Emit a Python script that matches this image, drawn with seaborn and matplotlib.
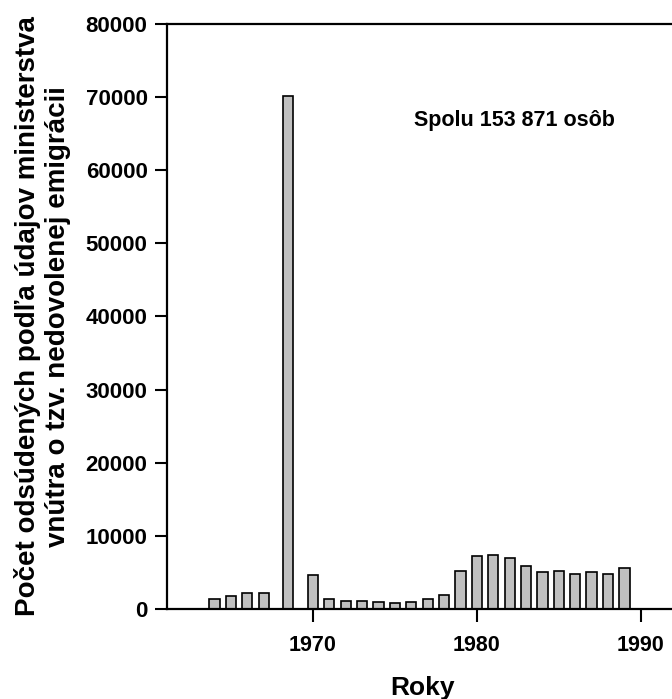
import matplotlib
matplotlib.use("Agg")
import matplotlib.pyplot as plt
import seaborn as sns
import pandas as pd

# Values (1968 and 1969 shown as one bar at 1968.5)
years = [1964, 1965, 1966, 1967, 1968.5, 1970, 1971, 1972, 1973, 1974, 1975,
         1976, 1977, 1978, 1979, 1980, 1981, 1982, 1983, 1984, 1985, 1986,
         1987, 1988, 1989]
counts = [1400, 1780, 2190, 2190, 70100, 4650, 1320, 1140, 1050, 960, 780,
          960, 1320, 1870, 5200, 7200, 7340, 6980, 5840, 5060, 5240, 4790,
          5060, 4790, 5560]
y_ticks = [0, 10000, 20000, 30000, 40000, 50000, 60000, 70000, 80000]
x_ticks = [1970, 1980, 1990]

df = pd.DataFrame({"rok": years, "pocet": counts})

sns.set_style("ticks")
plt.rcParams["font.family"] = ["Liberation Sans", "DejaVu Sans"]
plt.rcParams["font.weight"] = "bold"
plt.rcParams["text.color"] = "black"
plt.rcParams["axes.labelcolor"] = "black"
plt.rcParams["xtick.color"] = "black"
plt.rcParams["ytick.color"] = "black"

fig = plt.figure(figsize=(6.72, 6.99), dpi=100)
ax = fig.add_axes([0.2485, 0.1288, 0.7515, 0.8369])

sns.barplot(data=df, x="rok", y="pocet", native_scale=True, width=0.63,
            color="#c0c0c0", edgecolor="black", linewidth=1.2, saturation=1,
            ax=ax)

ax.set_xlim(1961.1, 1991.9)
ax.set_ylim(0, 80000)
ax.set_xticks(x_ticks)
ax.set_yticks(y_ticks)
ax.set_xticklabels([str(t) for t in x_ticks], fontsize=15.5, fontweight="bold")
ax.set_yticklabels([str(t) for t in y_ticks], fontsize=16, fontweight="bold")
ax.tick_params(axis="both", direction="out", length=9, width=1.5)
ax.tick_params(axis="x", pad=10)
ax.tick_params(axis="y", pad=5)

for side in ["left", "top", "bottom"]:
    ax.spines[side].set_linewidth(1.6)
    ax.spines[side].set_color("black")
ax.spines["right"].set_visible(False)

ax.set_xlabel("Roky", fontsize=19, fontweight="bold")
ax.xaxis.set_label_coords(0.505, -0.114)
ax.set_ylabel("Počet odsúdených podľa údajov ministerstva\nvnútra o tzv. nedovolenej emigrácii",
              fontsize=20, fontweight="bold", linespacing=1.2)
ax.yaxis.set_label_coords(-0.19, 0.5)

ax.text(1982.3, 66760, "Spolu 153 871 osôb", fontsize=15.5, fontweight="bold",
        ha="center", va="center")

fig.savefig("out.png", dpi=100)
